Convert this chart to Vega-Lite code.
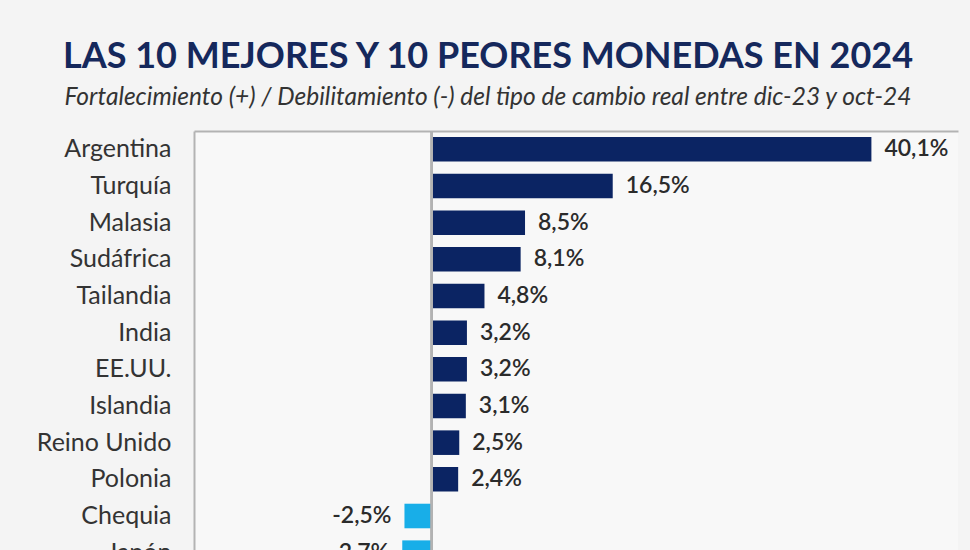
{
  "$schema": "https://vega.github.io/schema/vega-lite/v6.json",
  "width": 764,
  "height": 440,
  "autosize": "none",
  "padding": {"left": 194, "top": 131, "right": 12, "bottom": 0},
  "background": "#f4f4f4",
  "title": {
    "text": "LAS 10 MEJORES Y 10 PEORES MONEDAS EN 2024",
    "subtitle": "Fortalecimiento (+) / Debilitamiento (-) del tipo de cambio real entre dic-23 y oct-24",
    "anchor": "middle",
    "frame": "group",
    "dx": -88,
    "font": "Lato",
    "fontSize": 36,
    "fontWeight": "bold",
    "color": "#15285c",
    "subtitleFont": "Lato",
    "subtitleFontSize": 24.5,
    "subtitleFontStyle": "italic",
    "subtitleColor": "#333333",
    "subtitlePadding": 10,
    "offset": 20
  },
  "data": {
    "values": [
      {"pais": "Argentina", "valor": 40.1},
      {"pais": "Turquía", "valor": 16.5},
      {"pais": "Malasia", "valor": 8.5},
      {"pais": "Sudáfrica", "valor": 8.1},
      {"pais": "Tailandia", "valor": 4.8},
      {"pais": "India", "valor": 3.2},
      {"pais": "EE.UU.", "valor": 3.2},
      {"pais": "Islandia", "valor": 3.1},
      {"pais": "Reino Unido", "valor": 2.5},
      {"pais": "Polonia", "valor": 2.4},
      {"pais": "Chequia", "valor": -2.5},
      {"pais": "Japón", "valor": -2.7}
    ]
  },
  "transform": [
    {"calculate": "(datum.valor < 0 ? '-' : '') + replace(format(abs(datum.valor), '.1f'), '.', ',') + '%'", "as": "etiqueta"}
  ],
  "layer": [
    {
      "mark": {"type": "bar", "stroke": null},
      "encoding": {
        "y": {
          "field": "pais", "type": "nominal", "sort": null,
          "scale": {"paddingInner": 0.33, "paddingOuter": 0.165},
          "axis": {
            "title": null, "ticks": false, "domain": true, "domainColor": "#b3b3b3", "domainWidth": 2,
            "labelFont": "Lato", "labelFontSize": 25, "labelColor": "#333333", "labelPadding": 23
          }
        },
        "x": {
          "field": "valor", "type": "quantitative",
          "scale": {"domain": [-21.7, 48], "nice": false, "zero": false},
          "axis": {
            "orient": "top", "title": null, "labels": false, "ticks": false, "grid": false,
            "domain": true, "domainColor": "#b3b3b3", "domainWidth": 2
          }
        },
        "color": {
          "condition": {"test": "datum.valor < 0", "value": "#18aee8"},
          "value": "#0b2463"
        }
      }
    },
    {
      "mark": {"type": "rule", "color": "#b3b3b3", "strokeWidth": 2},
      "encoding": {"x": {"datum": 0}}
    },
    {
      "transform": [{"filter": "datum.valor >= 0"}],
      "mark": {"type": "text", "align": "left", "baseline": "middle", "dx": 13, "font": "Lato", "fontSize": 23, "fontWeight": 600, "color": "#2b2b2b"},
      "encoding": {
        "y": {"field": "pais", "type": "nominal", "sort": null},
        "x": {"field": "valor", "type": "quantitative"},
        "text": {"field": "etiqueta"}
      }
    },
    {
      "transform": [{"filter": "datum.valor < 0"}],
      "mark": {"type": "text", "align": "right", "baseline": "middle", "dx": -13, "font": "Lato", "fontSize": 23, "fontWeight": 600, "color": "#2b2b2b"},
      "encoding": {
        "y": {"field": "pais", "type": "nominal", "sort": null},
        "x": {"field": "valor", "type": "quantitative"},
        "text": {"field": "etiqueta"}
      }
    }
  ],
  "config": {
    "view": {"fill": "#f8f8f8", "stroke": null}
  }
}
